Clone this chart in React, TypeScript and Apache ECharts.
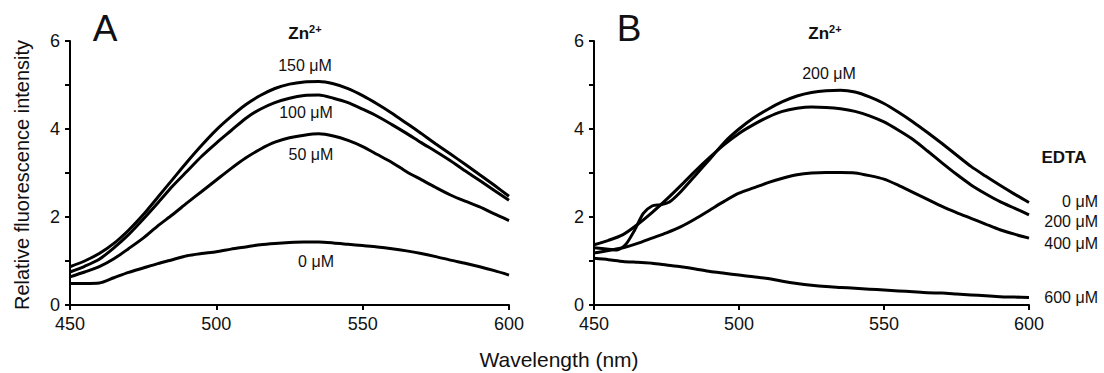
import React, { useEffect, useRef } from "react";
import * as echarts from "echarts";

// Wavelength grid (nm)
const wl = [450, 455, 460, 465, 470, 475, 480, 485, 490, 495, 500, 505, 510, 515, 520, 525, 530, 535, 540, 545, 550, 555, 560, 565, 570, 575, 580, 585, 590, 595, 600];

// Panel A: Zn2+ titration
const zn150 = [0.87, 1.0, 1.17, 1.4, 1.7, 2.05, 2.45, 2.85, 3.25, 3.63, 3.98, 4.28, 4.55, 4.76, 4.92, 5.02, 5.07, 5.08, 5.03, 4.92, 4.76, 4.57, 4.36, 4.13, 3.9, 3.66, 3.43, 3.2, 2.96, 2.72, 2.47];
const zn100 = [0.75, 0.88, 1.04, 1.3, 1.6, 1.95, 2.32, 2.7, 3.04, 3.38, 3.68, 3.96, 4.24, 4.45, 4.6, 4.7, 4.76, 4.77, 4.7, 4.6, 4.45, 4.29, 4.1, 3.9, 3.69, 3.49, 3.28, 3.05, 2.83, 2.6, 2.38];
const zn50 = [0.64, 0.75, 0.87, 1.05, 1.28, 1.52, 1.8, 2.05, 2.32, 2.58, 2.84, 3.1, 3.34, 3.54, 3.7, 3.8, 3.86, 3.89, 3.84, 3.74, 3.6, 3.42, 3.24, 3.03, 2.85, 2.67, 2.5, 2.36, 2.23, 2.07, 1.92];
const zn0 = [0.49, 0.49, 0.5, 0.62, 0.74, 0.84, 0.94, 1.03, 1.12, 1.17, 1.21, 1.27, 1.32, 1.37, 1.4, 1.42, 1.43, 1.43, 1.41, 1.38, 1.35, 1.32, 1.28, 1.23, 1.17, 1.1, 1.02, 0.95, 0.87, 0.78, 0.68];

// Panel B: EDTA added to Zn2+ 200 uM
const wlBump = [450, 455, 458, 461, 464, 467, 470, 473, 476, 480, 485, 490, 495, 500, 505, 510, 515, 520, 525, 530, 535, 540, 545, 550, 555, 560, 565, 570, 575, 580, 585, 590, 595, 600];
const edta0 = [1.3, 1.27, 1.25, 1.38, 1.7, 2.08, 2.25, 2.28, 2.34, 2.58, 2.95, 3.32, 3.7, 4.0, 4.25, 4.45, 4.62, 4.75, 4.83, 4.87, 4.88, 4.84, 4.73, 4.58, 4.38, 4.16, 3.92, 3.67, 3.41, 3.15, 2.93, 2.72, 2.52, 2.33];
const edta200 = [1.37, 1.47, 1.6, 1.83, 2.1, 2.4, 2.72, 3.05, 3.36, 3.65, 3.9, 4.1, 4.27, 4.4, 4.47, 4.5, 4.49, 4.46, 4.4, 4.3, 4.16, 3.97, 3.76, 3.5, 3.23, 2.97, 2.73, 2.53, 2.35, 2.2, 2.05];
const edta400 = [1.18, 1.24, 1.3, 1.4, 1.52, 1.64, 1.78, 1.96, 2.16, 2.36, 2.54, 2.66, 2.78, 2.88, 2.96, 3.0, 3.01, 3.01, 3.0, 2.94, 2.86, 2.72, 2.56, 2.4, 2.24, 2.1, 1.97, 1.84, 1.71, 1.61, 1.52];
const edta600 = [1.06, 1.03, 0.99, 0.97, 0.95, 0.91, 0.87, 0.82, 0.76, 0.72, 0.68, 0.64, 0.6, 0.54, 0.49, 0.45, 0.42, 0.4, 0.38, 0.36, 0.34, 0.32, 0.3, 0.28, 0.27, 0.25, 0.23, 0.21, 0.19, 0.18, 0.17];

const xTicks = [450, 500, 550, 600];
const yLabelValues = [0, 2, 4, 6];

const FONT = "Liberation Sans";

function pairs(xs: number[], ys: number[]) {
  return xs.map((x, i) => [x, ys[i]]);
}

export default function App() {
  const ref = useRef<HTMLDivElement>(null);
  useEffect(() => {
    if (!ref.current) return;
    const chart = echarts.init(ref.current, undefined, { renderer: "svg" });
    const xAxisBase = {
      type: "value",
      min: xTicks[0],
      max: xTicks[xTicks.length - 1],
      interval: 50,
      axisLine: { show: true, lineStyle: { color: "#000", width: 2 } },
      axisTick: { show: true, length: 5, lineStyle: { color: "#000", width: 2 } },
      axisLabel: { color: "#111", fontSize: 18, fontFamily: FONT, margin: 10 },
      splitLine: { show: false },
    };
    const yAxisBase = {
      type: "value",
      min: 0,
      max: 6,
      interval: 1,
      axisLine: { show: true, lineStyle: { color: "#000", width: 2 } },
      axisTick: { show: true, length: 5, lineStyle: { color: "#000", width: 2 } },
      axisLabel: {
        color: "#111",
        fontSize: 18,
        fontFamily: FONT,
        margin: 10,
        formatter: (v: number) => (yLabelValues.includes(v) ? String(v) : ""),
      },
      splitLine: { show: false },
    };
    const line = (xi: number, xs: number[], ys: number[]) => ({
      type: "line",
      xAxisIndex: xi,
      yAxisIndex: xi,
      data: pairs(xs, ys),
      smooth: 0.25,
      showSymbol: false,
      symbol: "none",
      lineStyle: { color: "#000", width: 3 },
    });
    const txt = (x: number, y: number, text: string, opts: any = {}) => ({
      type: "text",
      x,
      y,
      style: {
        text,
        fill: "#111",
        fontFamily: FONT,
        fontSize: 16,
        align: opts.align || "center",
        verticalAlign: "middle",
        fontWeight: opts.bold ? "bold" : "normal",
        ...(opts.style || {}),
      },
      rotation: opts.rotation || 0,
    });
    const znRich = {
      rich: {
        a: { fontSize: 17, fontWeight: "bold", fontFamily: FONT, color: "#111" },
        b: { fontSize: 11, fontWeight: "bold", fontFamily: FONT, color: "#111", verticalAlign: "top", padding: [0, 0, 8, 0] },
      },
    };
    chart.setOption({
      animation: false,
      backgroundColor: "#fff",
      grid: [
        { left: 70, top: 41, width: 439, height: 264 },
        { left: 594, top: 41, width: 435, height: 264 },
      ],
      xAxis: [
        { ...xAxisBase, gridIndex: 0 },
        { ...xAxisBase, gridIndex: 1 },
      ],
      yAxis: [
        { ...yAxisBase, gridIndex: 0 },
        { ...yAxisBase, gridIndex: 1 },
      ],
      series: [
        line(0, wl, zn150),
        line(0, wl, zn100),
        line(0, wl, zn50),
        line(0, wl, zn0),
        line(1, wlBump, edta0),
        line(1, wl, edta200),
        line(1, wl, edta400),
        line(1, wl, edta600),
      ],
      graphic: [
        txt(105, 28, "A", { style: { fontSize: 37 } }),
        txt(629, 28, "B", { style: { fontSize: 37 } }),
        txt(305, 33, "{a|Zn}{b|2+}", { style: znRich }),
        txt(825, 33, "{a|Zn}{b|2+}", { style: znRich }),
        txt(305, 65, "150 μM"),
        txt(306, 112, "100 μM"),
        txt(311, 154, "50 μM"),
        txt(316, 261, "0 μM"),
        txt(829, 73, "200 μM"),
        txt(1064, 157, "EDTA", { bold: true, style: { fontSize: 17 } }),
        txt(1098, 201, "0 μM", { align: "right" }),
        txt(1098, 221, "200 μM", { align: "right" }),
        txt(1098, 243, "400 μM", { align: "right" }),
        txt(1098, 297, "600 μM", { align: "right" }),
        txt(22, 175, "Relative fluorescence intensity", { rotation: Math.PI / 2, style: { fontSize: 20 } }),
        txt(559, 359, "Wavelength (nm)", { style: { fontSize: 21 } }),
      ],
    });
    return () => chart.dispose();
  }, []);
  return (
    <div
      ref={ref}
      style={{ position: "fixed", left: 0, top: 0, width: 1104, height: 373, background: "#fff" }}
    />
  );
}
